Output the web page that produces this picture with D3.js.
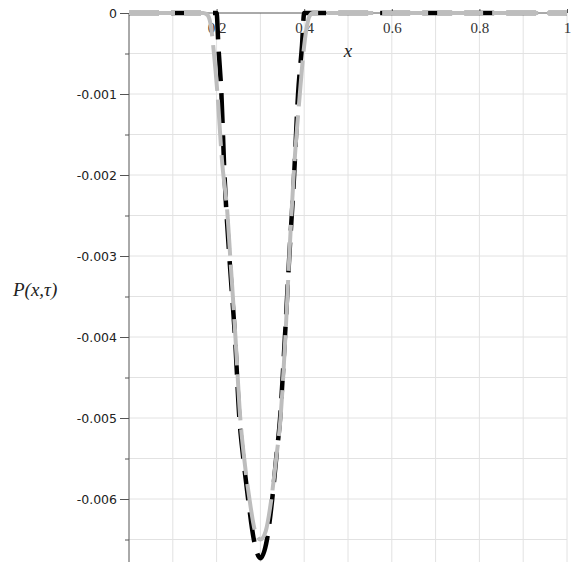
<!DOCTYPE html>
<html lang="en">
    <head>
        <meta charset="utf-8">
        <title>P(x,t)</title>
        <script type="text/javascript" src="https://cdn.jsdelivr.net/npm/d3@7"></script>
        <style>
            body { margin: 0; background: #fff; }
            .grid line { stroke: #e2e2e2; stroke-width: 1; }
            .axis path, .axis line { stroke: #555; }
        </style>
    </head>
    <body>
        <script type="text/javascript">
            var w = 574;
            var h = 562;

            // tick values
            var xTicks = [0.2, 0.4, 0.6, 0.8, 1];
            var xGrid = [0.1, 0.2, 0.3, 0.4, 0.5, 0.6, 0.7, 0.8, 0.9, 1];
            var yTicks = [0, -0.001, -0.002, -0.003, -0.004, -0.005, -0.006];
            var yGrid = [-0.0005, -0.001, -0.0015, -0.002, -0.0025, -0.003, -0.0035, -0.004,
                         -0.0045, -0.005, -0.0055, -0.006, -0.0065];

            // black dashed curve
            var blackX = [0, 0.2, 0.204, 0.211, 0.218, 0.229, 0.242, 0.252, 0.261, 0.272, 0.285,
                          0.3, 0.315, 0.327, 0.336, 0.345, 0.356, 0.366, 0.377, 0.386, 0.395, 0.4, 1];
            var blackY = [0, 0, -0.0004, -0.001, -0.002, -0.003, -0.004, -0.005, -0.0055, -0.006, -0.0065,
                          -0.00673, -0.0065, -0.006, -0.0055, -0.005, -0.004, -0.003, -0.002, -0.001, -0.0004, 0, 0];

            // gray dashed curve
            var grayX = [0, 0.17, 0.18, 0.188, 0.194, 0.202, 0.212, 0.225, 0.231, 0.243, 0.254, 0.263,
                         0.275, 0.288, 0.3, 0.312, 0.325, 0.336, 0.346, 0.357, 0.366, 0.376, 0.39,
                         0.398, 0.405, 0.412, 0.42, 1];
            var grayY = [0, 0, -0.00003, -0.0002, -0.0005, -0.001, -0.0018, -0.0025, -0.003, -0.004, -0.005, -0.0055,
                         -0.006, -0.0064, -0.0065, -0.0064, -0.006, -0.0055, -0.005, -0.004, -0.003, -0.002, -0.001,
                         -0.0005, -0.0002, -0.00004, 0, 0];

            var x = d3.scaleLinear().domain([0, 1]).range([129, 567]);
            var y = d3.scaleLinear().domain([0, -0.006]).range([13, 499]);

            var svg = d3.select("body").append("svg").attr("width", w).attr("height", h);

            //grid lines
            var grid = svg.append("g").attr("class", "grid");
            grid.selectAll("line.v")
                .data(xGrid)
                .enter()
                .append("line")
                .attr("x1", function(d) { return x(d); })
                .attr("x2", function(d) { return x(d); })
                .attr("y1", y(0))
                .attr("y2", h);
            grid.selectAll("line.h")
                .data(yGrid)
                .enter()
                .append("line")
                .attr("x1", x(0))
                .attr("x2", x(1))
                .attr("y1", function(d) { return y(d); })
                .attr("y2", function(d) { return y(d); });

            // y axis with minor ticks
            svg.append("g")
                .attr("class", "axis")
                .attr("transform", "translate(" + x(0) + ",0)")
                .call(d3.axisLeft(y).tickValues(yGrid).tickSize(4).tickFormat(""))
                .call(function(g) { g.select(".domain").remove(); });
            var yAxis = svg.append("g")
                .attr("class", "axis")
                .attr("transform", "translate(" + x(0) + ",0)")
                .call(d3.axisLeft(y).tickValues(yTicks).tickSize(9).tickPadding(3)
                    .tickFormat(function(d) { return d === 0 ? "0" : d3.format(".3f")(d).replace("\u2212", "-"); }));
            yAxis.select(".domain").attr("d", "M0," + y(0) + "V" + h);
            yAxis.selectAll("text")
                .attr("font-family", "DejaVu Sans, sans-serif")
                .attr("font-size", "12.5px")
                .attr("fill", "#222");

            // x axis along zero
            var xAxis = svg.append("g")
                .attr("class", "axis")
                .attr("transform", "translate(0," + y(0) + ")")
                .call(d3.axisBottom(x).tickValues(xTicks).tickSize(-4).tickPadding(9)
                    .tickFormat(function(d) { return d === 1 ? "1" : d3.format(".1f")(d); }));
            xAxis.select(".domain").attr("d", "M" + x(0) + ",0H" + x(1));
            xAxis.selectAll("text")
                .attr("font-family", "Liberation Serif, serif")
                .attr("font-size", "15px")
                .attr("fill", "#333");

            var line = d3.line()
                .x(function(d) { return x(d[0]); })
                .y(function(d) { return y(d[1]); })
                .curve(d3.curveMonotoneX);

            var black = blackX.map(function(d, i) { return [d, blackY[i]]; });
            var gray = grayX.map(function(d, i) { return [d, grayY[i]]; });

            svg.append("path")
                .datum(black)
                .attr("d", line)
                .attr("fill", "none")
                .attr("stroke", "#000")
                .attr("stroke-width", 4.5)
                .attr("stroke-dasharray", "30,12");

            svg.append("path")
                .datum(gray)
                .attr("d", line)
                .attr("fill", "none")
                .attr("stroke", "#bdbdbd")
                .attr("stroke-width", 4)
                .attr("stroke-dasharray", "46,9");

            // labels
            svg.append("text")
                .attr("x", 348)
                .attr("y", 57)
                .attr("font-family", "Liberation Serif, serif")
                .attr("font-style", "italic")
                .attr("font-size", "19px")
                .attr("fill", "#222")
                .attr("text-anchor", "middle")
                .text("x");

            svg.append("text")
                .attr("x", 13)
                .attr("y", 296)
                .attr("font-family", "Liberation Serif, serif")
                .attr("font-style", "italic")
                .attr("font-size", "19px")
                .attr("fill", "#222")
                .text("P(x,\u03c4)");
        </script>
    </body>
</html>
